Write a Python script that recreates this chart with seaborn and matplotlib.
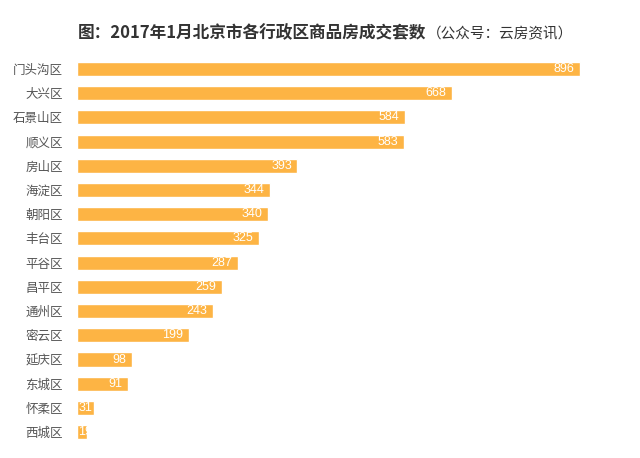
import matplotlib
matplotlib.use("Agg")
import matplotlib.pyplot as plt
import pandas as pd
import seaborn as sns

# Data
districts = ["门头沟区", "大兴区", "石景山区", "顺义区", "房山区", "海淀区", "朝阳区", "丰台区",
             "平谷区", "昌平区", "通州区", "密云区", "延庆区", "东城区", "怀柔区", "西城区"]
counts = [896, 668, 584, 583, 393, 344, 340, 325, 287, 259, 243, 199, 98, 91, 31, 19]

title_main = "图：2017年1月北京市各行政区商品房成交套数"
title_sub = "（公众号：云房资讯）"

df = pd.DataFrame({"district": districts, "count": counts})

sns.set_theme(style="white")
plt.rcParams["font.family"] = ["Noto Sans CJK SC", "DejaVu Sans"]

fig = plt.figure(figsize=(6.4, 4.58), dpi=100)
ax = fig.add_axes([0.12, 0.030, 0.85, 0.846])

bar_color = "#FDB444"
sns.barplot(data=df, x="count", y="district", color=bar_color, saturation=1,
            width=0.58, ax=ax)

ax.set_xlim(0, 969)
ax.set_xlabel("")
ax.set_ylabel("")
ax.set_xticks([])
ax.tick_params(axis="y", length=0, pad=10, labelsize=9, labelcolor="#555555")
for s in ax.spines.values():
    s.set_visible(False)

# value labels inside the bar ends; short bars get the label at the bar start
fig.canvas.draw()
rend = fig.canvas.get_renderer()
for p, v in zip(ax.patches, counts):
    yc = p.get_y() + p.get_height() / 2
    t = ax.annotate(str(v), (p.get_x() + p.get_width(), yc),
                    xytext=(-4, 0), textcoords="offset points", ha="right", va="center",
                    color="white", fontsize=9, family=["Liberation Sans", "DejaVu Sans"])
    left = ax.transData.transform((p.get_x(), yc))[0]
    if t.get_window_extent(rend).x0 < left:
        t.xy = (p.get_x(), yc)
        t.set_ha("left")
        t.xyann = (1, 0)

# Title in two parts
t1 = fig.text(0.122, 0.928, title_main, ha="left", va="center", fontsize=12,
              fontweight="bold", color="#333333")
fig.canvas.draw()
bb = t1.get_window_extent(rend)
x1 = fig.transFigure.inverted().transform((bb.x1, bb.y0))[0]
fig.text(x1, 0.926, title_sub, ha="left", va="center", fontsize=10.5, color="#333333")

fig.savefig("out.png", dpi=100)
